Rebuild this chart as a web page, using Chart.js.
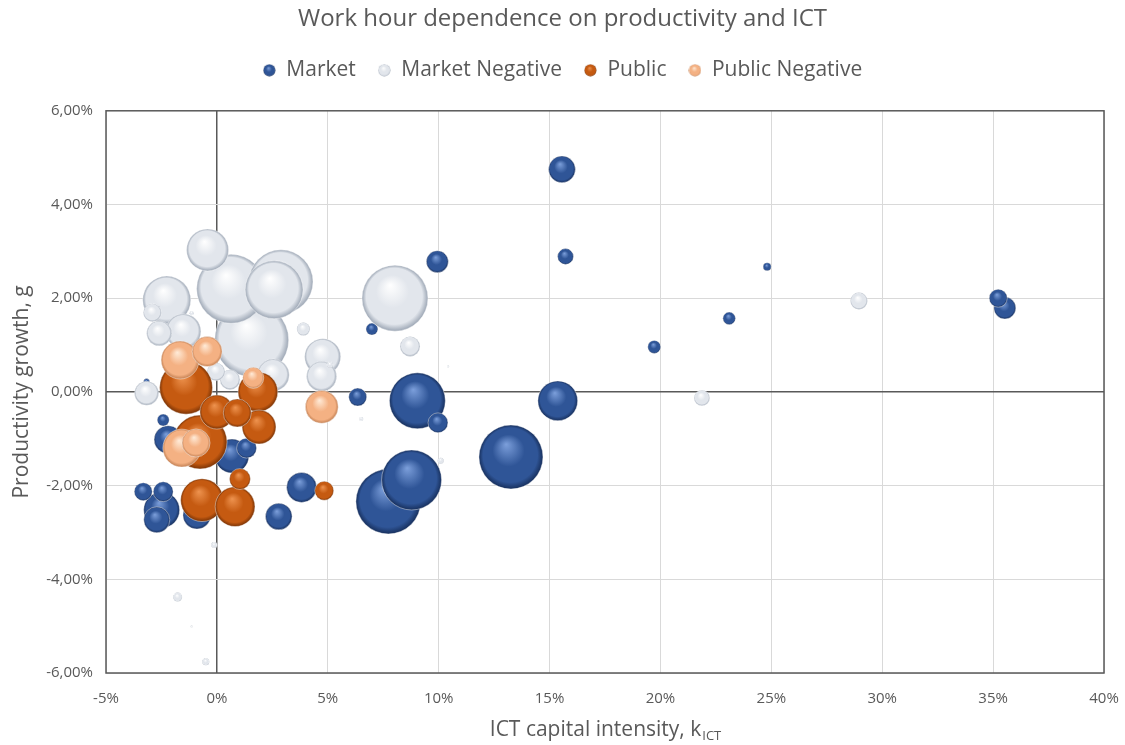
<!DOCTYPE html>
<html>
<head>
<meta charset="utf-8">
<script src="https://cdn.jsdelivr.net/npm/chart.js@4.4.1/dist/chart.umd.min.js"></script>
<style>
  html, body { margin: 0; padding: 0; background: #ffffff; }
  canvas { display: block; }
</style>
</head>
<body>
<canvas id="chart" width="1125" height="745"></canvas>
<script>
// ICT capital intensity (%), productivity growth (%) and work-hour weight per industry
const marketIct    = [15.56, 15.72, 24.81, 19.72, 23.10, 35.23, 35.53, 9.94, 15.37, 9.97, 6.35, 9.04, 8.78, 7.73, 13.26, 3.82, 2.79, 1.34, 0.68, 6.99, -3.17, -2.42, -3.32, -2.42, -2.49, -2.71, -0.90, -2.20];
const marketGrowth = [4.75, 2.89, 2.67, 0.96, 1.57, 2.00, 1.79, 2.78, -0.19, -0.66, -0.11, -0.19, -1.88, -2.34, -1.39, -2.04, -2.66, -1.20, -1.37, 1.34, 0.22, -0.60, -2.13, -2.13, -2.52, -2.73, -2.63, -1.02];
const marketHours  = [20, 7, 1.8, 4.7, 4.4, 9, 13.4, 13.4, 44, 11, 9, 87, 100, 117, 114, 25, 19.7, 11, 32, 4, 1, 4, 9, 11, 36, 18.8, 21.8, 21.8];

const marketNegIct    = [-0.42, 0.64, 2.89, 2.58, 1.57, -2.26, -2.91, -2.60, -1.51, -1.14, 0.59, 2.54, -3.17, 4.77, 4.72, 5.10, 3.90, 8.03, 8.71, 10.43, 6.51, 10.09, -0.12, 28.95, 21.87, -1.77, -0.50, -0.04, -1.14];
const marketNegGrowth = [3.03, 2.20, 2.35, 2.18, 1.11, 1.96, 1.69, 1.25, 1.29, 1.68, 0.26, 0.36, -0.03, 0.75, 0.33, 0.58, 1.34, 2.00, 0.97, 0.54, -0.58, -1.47, -3.27, 1.94, -0.13, -4.38, -5.76, 0.43, -5.01];
const marketNegHours  = [49, 132, 114, 93, 152, 64, 9, 17.4, 34, 0.44, 11, 28.4, 16, 36, 25, 1, 4.7, 121, 11, 0.11, 0.44, 1, 1, 8, 6.8, 2.25, 1.36, 9, 0.11];

const publicIct    = [-1.39, -0.76, 0.00, 0.92, 1.90, 1.85, 1.04, -0.67, 0.82, 4.84];
const publicGrowth = [0.09, -1.07, -0.43, -0.45, -0.75, 0.00, -1.86, -2.31, -2.45, -2.11];
const publicHours  = [78, 81, 32, 21.8, 32, 44, 12.25, 51, 44, 10];

const publicNegIct    = [-1.66, -0.44, 1.64, 4.73, -1.58, -0.94];
const publicNegGrowth = [0.68, 0.86, 0.30, -0.32, -1.20, -1.09];
const publicNegHours  = [40, 25, 12.25, 30, 40, 21.8];

const seriesNames = ['Market', 'Market Negative', 'Public', 'Public Negative'];
const xTickValues = [-5, 0, 5, 10, 15, 20, 25, 30, 35, 40];
const yTickValues = [-6, -4, -2, 0, 2, 4, 6];

// sphere shading: highlight, body, rim
const shades = [
  ['#7C9FDB', '#2F5597', '#172F5C'],
  ['#FFFFFF', '#E2E6EC', '#9CA6B4'],
  ['#EE934F', '#C55A11', '#7A3305'],
  ['#FFEBD8', '#F4B183', '#C27F52']
];

const FONT = "'Open Sans', 'DejaVu Sans', sans-serif";
const TEXT = '#595959';

function bubbleRadius(hours) { return 3 * Math.sqrt(hours); }

function buildPoints(xs, ys, hs) {
  const pts = xs.map((x, i) => ({ x: x, y: ys[i], r: bubbleRadius(hs[i]) }));
  // larger bubbles go to the back
  return pts.sort((a, b) => b.r - a.r);
}

function sphereFill(ctx, cx, cy, r, s) {
  const g = ctx.createRadialGradient(cx - 0.15 * r, cy - 0.4 * r, 0, cx, cy, r);
  g.addColorStop(0, s[0]);
  g.addColorStop(0.5, s[1]);
  g.addColorStop(0.85, s[1]);
  g.addColorStop(1, s[2]);
  return g;
}

function sphereColor(si) {
  return (c) => {
    const chart = c.chart;
    const raw = c.raw;
    if (!raw || !chart.chartArea || !chart.scales.x) return shades[si][1];
    const cx = chart.scales.x.getPixelForValue(raw.x);
    const cy = chart.scales.y.getPixelForValue(raw.y);
    return sphereFill(chart.ctx, cx, cy, Math.max(raw.r, 0.5), shades[si]);
  };
}

// small sphere images for the legend
function legendSphere(si) {
  const cv = document.createElement('canvas');
  cv.width = 13; cv.height = 13;
  const g = cv.getContext('2d');
  g.fillStyle = sphereFill(g, 6.5, 6.5, 6, shades[si]);
  g.beginPath(); g.arc(6.5, 6.5, 6, 0, Math.PI * 2); g.fill();
  return cv;
}
const legendIcons = shades.map((s, i) => legendSphere(i));

const datasets = [
  buildPoints(marketIct, marketGrowth, marketHours),
  buildPoints(marketNegIct, marketNegGrowth, marketNegHours),
  buildPoints(publicIct, publicGrowth, publicHours),
  buildPoints(publicNegIct, publicNegGrowth, publicNegHours)
].map((pts, i) => ({
  label: seriesNames[i],
  data: pts,
  order: 4 - i,
  backgroundColor: sphereColor(i),
  borderColor: 'rgba(255,255,255,0.55)',
  borderWidth: 0.8,
  hoverBorderWidth: 0.8
}));

// empty strip between the legend and the plot area
const legendGap = {
  id: 'legendGap',
  beforeInit(chart) {
    Chart.layouts.addBox(chart, {
      position: 'top',
      weight: 0,
      fullSize: true,
      options: {},
      isHorizontal() { return true; },
      update(maxWidth) { this.width = maxWidth; this.height = 20; },
      draw() {}
    });
  }
};

// plot-area frame and axis titles
const framePlugin = {
  id: 'frame',
  beforeDatasetsDraw(chart) {
    const { ctx, chartArea: a } = chart;
    ctx.save();
    ctx.strokeStyle = '#595959';
    ctx.lineWidth = 1.5;
    ctx.strokeRect(a.left, a.top, a.right - a.left, a.bottom - a.top);
    ctx.restore();
  },
  afterDraw(chart) {
    const { ctx, chartArea: a } = chart;
    ctx.save();
    ctx.fillStyle = TEXT;
    ctx.font = `21px ${FONT}`;
    ctx.textAlign = 'center';
    ctx.textBaseline = 'middle';
    ctx.translate(22, (a.top + a.bottom) / 2);
    ctx.rotate(-Math.PI / 2);
    ctx.fillText('Productivity growth, g', 0, 0);
    ctx.restore();

    ctx.save();
    ctx.fillStyle = TEXT;
    ctx.textBaseline = 'alphabetic';
    ctx.textAlign = 'left';
    const main = 'ICT capital intensity, k';
    const sub = 'ICT';
    ctx.font = `21px ${FONT}`;
    const w1 = ctx.measureText(main).width;
    ctx.font = `13px ${FONT}`;
    const w2 = ctx.measureText(sub).width;
    const x0 = (a.left + a.right) / 2 - (w1 + w2) / 2;
    const base = 736;
    ctx.font = `21px ${FONT}`;
    ctx.fillText(main, x0, base);
    ctx.font = `13px ${FONT}`;
    ctx.fillText(sub, x0 + w1 + 1, base + 4);
    ctx.restore();
  }
};

const gridColor = (c) => (c.tick && c.tick.value === 0) ? '#595959' : '#D9D9D9';
const gridWidth = (c) => (c.tick && c.tick.value === 0) ? 1.5 : 1;

new Chart(document.getElementById('chart'), {
  type: 'bubble',
  data: { datasets },
  options: {
    responsive: false,
    animation: false,
    events: [],
    layout: { autoPadding: false, padding: 0 },
    scales: {
      x: {
        type: 'linear',
        min: -5, max: 40,
        afterBuildTicks: (s) => { s.ticks = xTickValues.map(v => ({ value: v })); },
        afterFit: (s) => { s.height = 72; s.paddingLeft = 0; s.paddingRight = 21; },
        grid: { color: gridColor, lineWidth: gridWidth, drawTicks: false },
        border: { display: false },
        ticks: {
          padding: 17,
          color: TEXT,
          font: { family: FONT, size: 15 },
          callback: (v) => v + '%'
        }
      },
      y: {
        type: 'linear',
        min: -6, max: 6,
        afterBuildTicks: (s) => { s.ticks = yTickValues.map(v => ({ value: v })); },
        afterFit: (s) => { s.width = 106; s.paddingTop = 0; s.paddingBottom = 0; },
        grid: { color: gridColor, lineWidth: gridWidth, drawTicks: false },
        border: { display: false },
        ticks: {
          padding: 13,
          color: TEXT,
          font: { family: FONT, size: 15 },
          callback: (v) => v.toFixed(2).replace('.', ',') + '%'
        }
      }
    },
    plugins: {
      tooltip: { enabled: false },
      title: {
        display: true,
        text: 'Work hour dependence on productivity and ICT',
        color: TEXT,
        font: { family: FONT, size: 24, weight: 'normal' },
        padding: { top: 5, bottom: 4 }
      },
      legend: {
        display: true,
        position: 'top',
        labels: {
          color: TEXT,
          font: { family: FONT, size: 21 },
          usePointStyle: true,
          boxWidth: 13,
          boxHeight: 13,
          padding: 22,
          generateLabels: (chart) => seriesNames.map((name, i) => ({
            text: name,
            datasetIndex: i,
            pointStyle: legendIcons[i],
            fillStyle: shades[i][1],
            strokeStyle: 'rgba(0,0,0,0)',
            lineWidth: 0,
            fontColor: TEXT,
            hidden: false
          }))
        }
      }
    }
  },
  plugins: [legendGap, framePlugin]
});
</script>
</body>
</html>
